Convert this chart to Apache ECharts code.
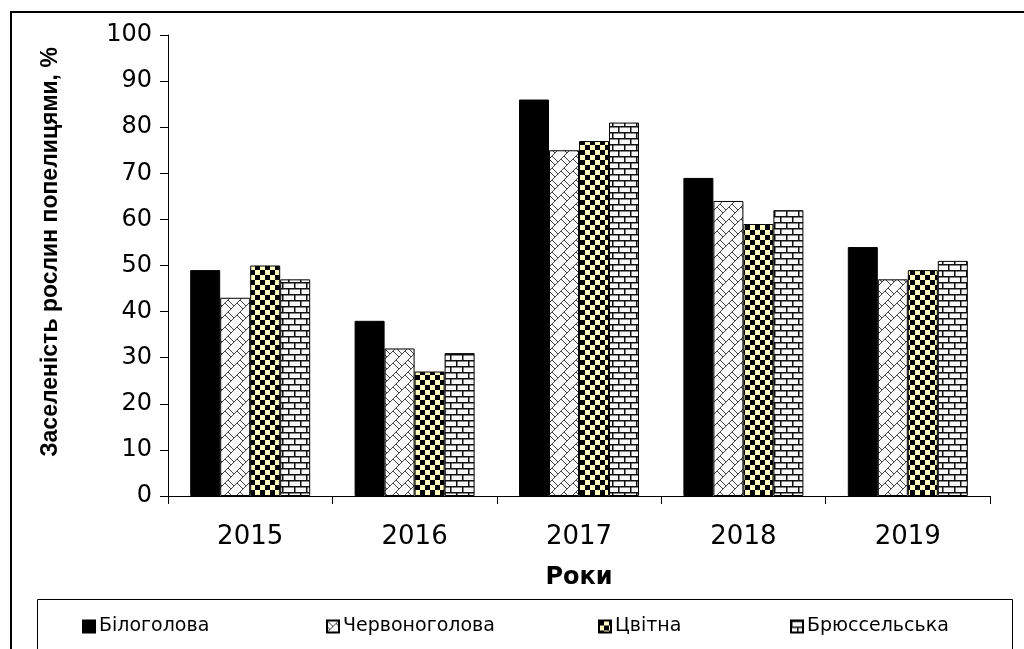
<!DOCTYPE html>
<html>
<head>
<meta charset="utf-8">
<script src="https://cdn.jsdelivr.net/npm/echarts@6/dist/echarts.min.js"></script>
<style>
html,body{margin:0;padding:0;background:#fff;}
#chart{width:1024px;height:649px;}
</style>
</head>
<body>
<div id="chart"></div>
<script>
// ---- data ----
const categories = ['2015', '2016', '2017', '2018', '2019'];
const seriesNames = ['Білоголова', 'Червоноголова', 'Цвітна', 'Брюссельська'];
const bilogolova = [49, 38, 86, 69, 54];
const chervonogolova = [43, 32, 75, 64, 47];
const tsvitna = [50, 27, 77, 59, 49];
const brusselska = [47, 31, 81, 62, 51];
const yTitle = 'Заселеність рослин попелицями, %';
const xTitle = 'Роки';

// ---- patterns ----
function tile(w, h, draw) {
  const c = document.createElement('canvas');
  c.width = w; c.height = h;
  const ctx = c.getContext('2d');
  draw(ctx, w, h);
  return c;
}
const hatch = tile(12, 12, (ctx, w, h) => {
  ctx.fillStyle = '#fafafa'; ctx.fillRect(0, 0, w, h);
  ctx.strokeStyle = '#444'; ctx.lineWidth = 1;
  for (let ox = -12; ox <= 12; ox += 12) {
    for (let oy = -12; oy <= 12; oy += 12) {
      ctx.beginPath();
      ctx.moveTo(ox + 0, oy + 12); ctx.lineTo(ox + 12, oy + 0);
      ctx.moveTo(ox + 0, oy + 0); ctx.lineTo(ox + 6, oy + 6);
      ctx.moveTo(ox + 9, oy + 3); ctx.lineTo(ox + 15, oy + 9);
      ctx.stroke();
    }
  }
});
const checker = tile(10, 10, (ctx, w, h) => {
  ctx.fillStyle = '#ffffc4'; ctx.fillRect(0, 0, w, h);
  ctx.fillStyle = '#000';
  ctx.fillRect(0, 0, 5, 5);
  ctx.fillRect(5, 5, 5, 5);
});
const brick = tile(12, 12, (ctx, w, h) => {
  ctx.fillStyle = '#f8f8f8'; ctx.fillRect(0, 0, w, h);
  ctx.fillStyle = '#111';
  ctx.fillRect(0, 0, 12, 1.5);
  ctx.fillRect(0, 6, 12, 1.5);
  ctx.fillRect(0, 0, 1.5, 6);
  ctx.fillRect(6, 6, 1.5, 6);
});

const fills = ['#000000',
  { image: hatch, repeat: 'repeat' },
  { image: checker, repeat: 'repeat' },
  { image: brick, repeat: 'repeat' }];
const values = [bilogolova, chervonogolova, tsvitna, brusselska];

const chart = echarts.init(document.getElementById('chart'), null, { renderer: 'canvas' });

const legendLefts = [82, 326, 598, 790];
const legends = seriesNames.map((n, i) => ({
  data: [n],
  left: legendLefts[i],
  top: 617,
  padding: 0,
  itemWidth: 12,
  itemHeight: 12,
  itemGap: 5,
  icon: 'rect',
  selectedMode: false,
  textStyle: { fontFamily: 'DejaVu Sans', fontSize: 19, color: '#000', padding: [0, 0, 0, -1] }
}));

const option = {
  backgroundColor: '#fff',
  animation: false,
  textStyle: { fontFamily: 'DejaVu Sans' },
  legend: legends,
  grid: { left: 168, right: 34, top: 35, bottom: 153 },
  xAxis: {
    type: 'category',
    data: categories,
    name: xTitle,
    nameLocation: 'middle',
    nameGap: 70,
    nameTextStyle: { fontFamily: 'DejaVu Sans', fontWeight: 'bold', fontSize: 24, color: '#000' },
    axisLine: { lineStyle: { color: '#000', width: 1 } },
    axisTick: { show: true, length: 8, lineStyle: { color: '#000' } },
    axisLabel: { fontFamily: 'DejaVu Sans', fontSize: 26, color: '#000', margin: 28 }
  },
  yAxis: {
    type: 'value',
    min: 0, max: 100, interval: 10,
    axisLine: { show: true, lineStyle: { color: '#000', width: 1 } },
    axisTick: { show: true, length: 8, lineStyle: { color: '#000' } },
    axisLabel: { fontFamily: 'DejaVu Sans', fontSize: 24, color: '#000', margin: 16 },
    splitLine: { show: false }
  },
  series: seriesNames.map((n, i) => ({
    name: n,
    type: 'bar',
    data: values[i],
    barWidth: 30,
    barGap: '0%',
    itemStyle: { color: fills[i], borderColor: '#000', borderWidth: 1 }
  })),
  graphic: [
    { type: 'rect', shape: { x: 11, y: 12, width: 1030, height: 660 }, style: { fill: null, stroke: '#000', lineWidth: 2 }, silent: true },
    { type: 'rect', shape: { x: 37.5, y: 599.5, width: 975, height: 80 }, style: { fill: null, stroke: '#000', lineWidth: 1 }, silent: true },
    { type: 'text', x: 51, y: 252, rotation: Math.PI / 2, silent: true,
      style: { text: yTitle, fontFamily: 'Liberation Sans', fontWeight: 'bold', fontSize: 23, fill: '#000', align: 'center', verticalAlign: 'middle' } }
  ]
};
chart.setOption(option);
</script>
</body>
</html>
